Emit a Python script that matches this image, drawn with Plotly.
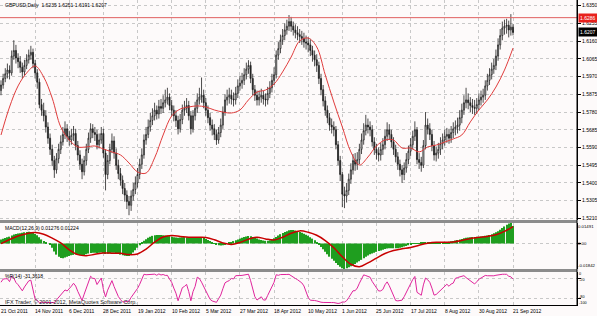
import plotly.graph_objects as go
from plotly.subplots import make_subplots
import pandas as pd

dates = pd.bdate_range("2011-10-21", "2012-09-21")

closes = [1.5925,1.5960,1.5985,1.6005,1.5990,1.6080,1.6110,1.6070,1.6050,1.6020,
 1.5995,1.6030,1.6060,1.6085,1.6100,1.6040,1.5990,1.5940,1.5820,1.5790,
 1.5760,1.5700,1.5640,1.5580,1.5520,1.5470,1.5530,1.5580,1.5620,1.5660,
 1.5690,1.5650,1.5630,1.5655,1.5665,1.5600,1.5550,1.5500,1.5460,1.5520,
 1.5580,1.5640,1.5690,1.5670,1.5660,1.5605,1.5630,1.5665,1.5560,1.5445,
 1.5520,1.5580,1.5625,1.5560,1.5495,1.5450,1.5415,1.5370,1.5335,1.5300,
 1.5280,1.5330,1.5365,1.5400,1.5445,1.5500,1.5550,1.5630,1.5660,1.5700,
 1.5735,1.5760,1.5790,1.5770,1.5810,1.5800,1.5830,1.5845,1.5860,1.5815,
 1.5790,1.5760,1.5735,1.5690,1.5740,1.5790,1.5800,1.5815,1.5760,1.5690,
 1.5760,1.5800,1.5845,1.5860,1.5870,1.5830,1.5790,1.5750,1.5710,1.5690,
 1.5660,1.5630,1.5670,1.5710,1.5780,1.5845,1.5860,1.5870,1.5850,1.5845,
 1.5880,1.5920,1.5935,1.5950,1.5980,1.6010,1.6030,1.5960,1.5900,1.5870,
 1.5845,1.5860,1.5870,1.5850,1.5845,1.5880,1.5910,1.5950,1.5980,1.6085,
 1.6120,1.6165,1.6190,1.6220,1.6240,1.6265,1.6240,1.6220,1.6205,1.6195,
 1.6185,1.6175,1.6155,1.6150,1.6140,1.6110,1.6085,1.6060,1.6030,1.5960,
 1.5900,1.5840,1.5790,1.5750,1.5710,1.5700,1.5685,1.5605,1.5520,1.5445,
 1.5340,1.5330,1.5360,1.5420,1.5470,1.5520,1.5500,1.5525,1.5580,1.5630,
 1.5680,1.5710,1.5700,1.5685,1.5620,1.5580,1.5560,1.5550,1.5580,1.5605,
 1.5650,1.5685,1.5660,1.5620,1.5580,1.5540,1.5500,1.5470,1.5445,1.5480,
 1.5525,1.5570,1.5605,1.5650,1.5685,1.5525,1.5510,1.5495,1.5600,1.5710,
 1.5690,1.5660,1.5600,1.5550,1.5560,1.5580,1.5610,1.5630,1.5650,1.5660,
 1.5640,1.5670,1.5690,1.5700,1.5710,1.5750,1.5790,1.5830,1.5845,1.5830,
 1.5815,1.5805,1.5800,1.5820,1.5845,1.5860,1.5870,1.5920,1.5950,1.5980,
 1.6010,1.6030,1.6080,1.6140,1.6190,1.6230,1.6240,1.6245,1.6220,1.6235,
 1.6207]

opens = [1.5895,1.5925,1.5960,1.5985,1.6005,1.5990,1.6080,1.6110,1.6070,1.6050,
 1.6020,1.5995,1.6030,1.6060,1.6085,1.6100,1.6040,1.5990,1.5940,1.5820,
 1.5790,1.5760,1.5700,1.5640,1.5580,1.5520,1.5470,1.5530,1.5580,1.5620,
 1.5660,1.5690,1.5650,1.5630,1.5655,1.5665,1.5600,1.5550,1.5500,1.5460,
 1.5520,1.5580,1.5640,1.5690,1.5670,1.5660,1.5605,1.5630,1.5665,1.5560,
 1.5445,1.5520,1.5580,1.5625,1.5560,1.5495,1.5450,1.5415,1.5370,1.5335,
 1.5300,1.5280,1.5330,1.5365,1.5400,1.5445,1.5500,1.5550,1.5630,1.5660,
 1.5700,1.5735,1.5760,1.5790,1.5770,1.5810,1.5800,1.5830,1.5845,1.5860,
 1.5815,1.5790,1.5760,1.5735,1.5690,1.5740,1.5790,1.5800,1.5815,1.5760,
 1.5690,1.5760,1.5800,1.5845,1.5860,1.5870,1.5830,1.5790,1.5750,1.5710,
 1.5690,1.5660,1.5630,1.5670,1.5710,1.5780,1.5845,1.5860,1.5870,1.5850,
 1.5845,1.5880,1.5920,1.5935,1.5950,1.5980,1.6010,1.6030,1.5960,1.5900,
 1.5870,1.5845,1.5860,1.5870,1.5850,1.5845,1.5880,1.5910,1.5950,1.5980,
 1.6085,1.6120,1.6165,1.6190,1.6220,1.6240,1.6265,1.6240,1.6220,1.6205,
 1.6195,1.6185,1.6175,1.6155,1.6150,1.6140,1.6110,1.6085,1.6060,1.6030,
 1.5960,1.5900,1.5840,1.5790,1.5750,1.5710,1.5700,1.5685,1.5605,1.5520,
 1.5445,1.5340,1.5330,1.5360,1.5420,1.5470,1.5520,1.5500,1.5525,1.5580,
 1.5630,1.5680,1.5710,1.5700,1.5685,1.5620,1.5580,1.5560,1.5550,1.5580,
 1.5605,1.5650,1.5685,1.5660,1.5620,1.5580,1.5540,1.5500,1.5470,1.5445,
 1.5480,1.5525,1.5570,1.5605,1.5650,1.5685,1.5525,1.5510,1.5495,1.5600,
 1.5710,1.5690,1.5660,1.5600,1.5550,1.5560,1.5580,1.5610,1.5630,1.5650,
 1.5660,1.5640,1.5670,1.5690,1.5700,1.5710,1.5750,1.5790,1.5830,1.5845,
 1.5830,1.5815,1.5805,1.5800,1.5820,1.5845,1.5860,1.5870,1.5920,1.5950,
 1.5980,1.6010,1.6030,1.6080,1.6140,1.6190,1.6230,1.6240,1.6245,1.6220,
 1.6235]

highs = [1.5950,1.5985,1.6015,1.6040,1.6030,1.6110,1.6165,1.6140,1.6095,1.6080,
 1.6045,1.6060,1.6090,1.6115,1.6135,1.6120,1.6060,1.6010,1.5960,1.5850,
 1.5830,1.5790,1.5725,1.5665,1.5605,1.5545,1.5560,1.5610,1.5655,1.5700,
 1.5730,1.5715,1.5680,1.5690,1.5705,1.5690,1.5625,1.5575,1.5530,1.5545,
 1.5610,1.5670,1.5720,1.5715,1.5700,1.5685,1.5665,1.5700,1.5690,1.5580,
 1.5550,1.5610,1.5665,1.5650,1.5585,1.5525,1.5480,1.5440,1.5400,1.5360,
 1.5330,1.5360,1.5400,1.5435,1.5480,1.5530,1.5585,1.5660,1.5700,1.5740,
 1.5775,1.5800,1.5830,1.5815,1.5845,1.5850,1.5870,1.5900,1.5910,1.5880,
 1.5845,1.5815,1.5790,1.5760,1.5770,1.5820,1.5840,1.5855,1.5840,1.5785,
 1.5790,1.5835,1.5880,1.5910,1.5965,1.5900,1.5855,1.5815,1.5775,1.5740,
 1.5715,1.5685,1.5700,1.5745,1.5810,1.5875,1.5900,1.5910,1.5900,1.5885,
 1.5915,1.5955,1.5975,1.5990,1.6015,1.6045,1.6058,1.6050,1.5985,1.5925,
 1.5895,1.5895,1.5905,1.5895,1.5880,1.5915,1.5945,1.5985,1.6020,1.6110,
 1.6155,1.6195,1.6225,1.6255,1.6275,1.6300,1.6290,1.6265,1.6250,1.6240,
 1.6225,1.6215,1.6205,1.6190,1.6180,1.6170,1.6135,1.6110,1.6090,1.6050,
 1.5985,1.5925,1.5865,1.5815,1.5775,1.5745,1.5730,1.5705,1.5625,1.5545,
 1.5460,1.5380,1.5400,1.5450,1.5505,1.5555,1.5560,1.5565,1.5610,1.5665,
 1.5720,1.5765,1.5745,1.5730,1.5710,1.5645,1.5610,1.5590,1.5615,1.5640,
 1.5685,1.5725,1.5715,1.5685,1.5645,1.5605,1.5565,1.5525,1.5495,1.5510,
 1.5560,1.5600,1.5640,1.5680,1.5730,1.5700,1.5560,1.5540,1.5630,1.5780,
 1.5745,1.5720,1.5685,1.5625,1.5595,1.5615,1.5645,1.5665,1.5685,1.5695,
 1.5690,1.5705,1.5725,1.5735,1.5750,1.5790,1.5825,1.5870,1.5910,1.5880,
 1.5860,1.5850,1.5845,1.5855,1.5880,1.5895,1.5905,1.5950,1.5985,1.6015,
 1.6045,1.6065,1.6115,1.6175,1.6225,1.6265,1.6275,1.6280,1.6270,1.6305,
 1.6251]

lows = [1.5870,1.5905,1.5940,1.5960,1.5955,1.5975,1.6060,1.6040,1.6015,1.5990,
 1.5960,1.5975,1.6010,1.6040,1.6060,1.6015,1.5960,1.5905,1.5800,1.5760,
 1.5730,1.5670,1.5610,1.5550,1.5490,1.5427,1.5450,1.5505,1.5555,1.5600,
 1.5635,1.5620,1.5600,1.5605,1.5625,1.5575,1.5520,1.5470,1.5420,1.5440,
 1.5495,1.5560,1.5615,1.5640,1.5625,1.5580,1.5585,1.5610,1.5535,1.5360,
 1.5420,1.5500,1.5560,1.5530,1.5470,1.5420,1.5385,1.5340,1.5300,1.5260,
 1.5227,1.5250,1.5305,1.5340,1.5375,1.5420,1.5475,1.5530,1.5605,1.5640,
 1.5675,1.5710,1.5735,1.5740,1.5745,1.5770,1.5775,1.5805,1.5820,1.5790,
 1.5760,1.5730,1.5700,1.5660,1.5670,1.5715,1.5760,1.5775,1.5735,1.5660,
 1.5670,1.5735,1.5775,1.5820,1.5830,1.5800,1.5760,1.5720,1.5680,1.5655,
 1.5630,1.5604,1.5610,1.5645,1.5690,1.5760,1.5815,1.5825,1.5820,1.5810,
 1.5820,1.5855,1.5895,1.5905,1.5925,1.5955,1.5985,1.5935,1.5870,1.5840,
 1.5815,1.5815,1.5830,1.5820,1.5810,1.5820,1.5855,1.5885,1.5925,1.5960,
 1.6060,1.6095,1.6140,1.6165,1.6195,1.6215,1.6210,1.6190,1.6175,1.6165,
 1.6150,1.6140,1.6125,1.6115,1.6100,1.6080,1.6050,1.6025,1.5995,1.5930,
 1.5870,1.5810,1.5760,1.5720,1.5680,1.5665,1.5650,1.5580,1.5495,1.5410,
 1.5270,1.5265,1.5295,1.5335,1.5395,1.5445,1.5465,1.5470,1.5500,1.5555,
 1.5605,1.5655,1.5665,1.5650,1.5595,1.5550,1.5525,1.5515,1.5520,1.5550,
 1.5580,1.5625,1.5630,1.5590,1.5550,1.5510,1.5470,1.5435,1.5400,1.5415,
 1.5455,1.5500,1.5545,1.5580,1.5625,1.5500,1.5475,1.5460,1.5480,1.5580,
 1.5660,1.5630,1.5570,1.5520,1.5515,1.5530,1.5550,1.5580,1.5600,1.5615,
 1.5610,1.5615,1.5640,1.5655,1.5665,1.5680,1.5720,1.5765,1.5800,1.5795,
 1.5780,1.5770,1.5765,1.5770,1.5790,1.5815,1.5830,1.5845,1.5895,1.5925,
 1.5955,1.5985,1.6005,1.6055,1.6115,1.6165,1.6195,1.6200,1.6180,1.6190,
 1.6191]

ma_vals = [1.5657,1.5807,1.5920,1.5989,1.6027,1.5968,1.5855,1.5700,1.5630,1.5593,
 1.5593,1.5598,1.5582,1.5566,1.5550,1.5507,1.5459,1.5453,1.5534,1.5657,
 1.5759,1.5796,1.5807,1.5813,1.5807,1.5791,1.5780,1.5775,1.5791,1.5845,
 1.5887,1.5898,1.5930,1.5995,1.6075,1.6161,1.6177,1.6129,1.5979,1.5834,
 1.5700,1.5566,1.5496,1.5539,1.5598,1.5630,1.5630,1.5587,1.5587,1.5566,
 1.5593,1.5603,1.5619,1.5636,1.5657,1.5727,1.5791,1.5845,1.5914,1.6005,
 1.6123]

macd_main = [0.0030,0.0035,0.0040,0.0046,0.0050,0.0058,0.0066,0.0070,0.0073,0.0075,0.0078,0.0082,0.0084,
 0.0085,0.0083,0.0078,0.0070,0.0060,0.0045,0.0030,0.0018,0.0008,0.0000,-0.0010,
 -0.0030,-0.0058,-0.0080,-0.0095,-0.0104,
 -0.0106,-0.0100,-0.0095,-0.0090,-0.0085,
 -0.0082,-0.0080,-0.0082,-0.0085,-0.0088,-0.0085,-0.0078,-0.0072,-0.0068,-0.0066,-0.0066,-0.0068,-0.0066,
 -0.0064,-0.0068,-0.0075,-0.0074,-0.0070,-0.0066,-0.0066,-0.0070,-0.0075,-0.0080,-0.0085,-0.0088,-0.0090,-0.0090,
 -0.0080,-0.0065,-0.0048,-0.0030,-0.0012,0.0005,
 0.0020,0.0032,0.0042,0.0050,0.0056,0.0060,0.0062,0.0063,0.0062,
 0.0060,0.0058,0.0056,0.0054,0.0050,0.0046,0.0044,0.0042,0.0044,0.0046,
 0.0047,0.0046,0.0044,0.0042,0.0042,0.0044,0.0046,0.0046,0.0044,0.0040,
 0.0034,0.0026,0.0018,0.0010,0.0002,-0.0006,-0.0012,-0.0014,-0.0012,-0.0006,0.0000,
 0.0006,0.0012,0.0018,0.0024,0.0030,0.0036,0.0042,0.0048,0.0052,0.0055,0.0053,
 0.0048,0.0042,0.0036,0.0030,0.0026,0.0022,0.0020,0.0020,
 0.0024,0.0030,0.0038,0.0048,0.0058,0.0068,0.0076,0.0084,0.0090,0.0096,0.0099,0.0098,0.0095,0.0090,0.0084,
 0.0078,0.0072,0.0064,0.0056,0.0046,0.0036,0.0024,0.0010,
 -0.0006,-0.0024,-0.0042,-0.0060,-0.0078,-0.0095,-0.0110,-0.0125,-0.0140,-0.0155,-0.0168,-0.0178,-0.0184,
 -0.0178,-0.0172,-0.0165,-0.0156,-0.0148,-0.0138,-0.0128,-0.0118,-0.0106,-0.0096,-0.0086,
 -0.0078,-0.0072,-0.0066,-0.0060,-0.0054,-0.0050,-0.0045,-0.0040,-0.0036,-0.0034,
 -0.0034,-0.0034,-0.0034,-0.0033,-0.0030,-0.0026,-0.0022,-0.0017,-0.0012,-0.0006,
 -0.0002,0.0002,0.0004,0.0004,0.0006,0.0008,0.0010,0.0012,0.0012,0.0010,
 0.0008,0.0008,0.0008,0.0008,0.0010,0.0010,0.0012,0.0014,0.0016,0.0018,
 0.0022,0.0026,0.0030,0.0034,0.0038,0.0042,0.0044,0.0046,0.0047,0.0048,0.0049,0.0050,0.0052,0.0054,0.0056,0.0058,
 0.0062,0.0068,0.0074,0.0082,0.0090,0.0100,0.0112,0.0124,0.0136,0.0145,0.0149,0.01276]

signal_vals = [0.0000,0.0030,0.0055,0.0072,0.0080,0.0068,0.0040,0.0005,-0.0045,-0.0080,
 -0.0088,-0.0078,-0.0068,-0.0070,-0.0070,-0.0080,-0.0075,-0.0040,0.0010,0.0048,
 0.0058,0.0052,0.0046,0.0045,0.0044,0.0028,0.0005,-0.0006,0.0008,0.0032,
 0.0046,0.0034,0.0026,0.0046,0.0075,0.0092,0.0082,0.0060,0.0022,-0.0030,
 -0.0095,-0.0150,-0.0168,-0.0140,-0.0105,-0.0072,-0.0050,-0.0038,-0.0028,-0.0012,
 0.0002,0.0009,0.0009,0.0012,0.0022,0.0036,0.0045,0.0052,0.0064,0.0088,
 0.01224]

price_ticks = [1.6350,1.6255,1.6160,1.6065,1.5970,1.5875,1.5780,1.5685,1.5590,1.5495,1.5400,1.5305,1.5210]
macd_labels = [0.01491, 0.00, -0.01842]
wpr_labels = [0, -20, -80, -100]
hline_price = 1.6286
last_price = 1.6207

n = len(dates)
xs = list(range(n))
sparse_idx = list(range(0, n, 4))
label_idx = list(range(0, n, 16))
label_txt = [f"{dates[i].day} {dates[i].strftime('%b %Y')}" for i in label_idx]

hi = pd.Series(highs).rolling(14, min_periods=1).max()
lo = pd.Series(lows).rolling(14, min_periods=1).min()
wpr = (-100 * (hi - pd.Series(closes)) / (hi - lo)).tolist()

H = 305.0
def pf(px):
    return (H - px) / H

BG = "#fdfafa"
GRID = "#c8c8c8"
FONT = "Liberation Sans"

fig = make_subplots(rows=3, cols=1, shared_xaxes=True, vertical_spacing=0.01)

fig.add_trace(go.Candlestick(x=xs, open=opens, high=highs, low=lows, close=closes,
    increasing=dict(line=dict(color="#202020", width=0.8), fillcolor="white"),
    decreasing=dict(line=dict(color="#202020", width=0.8), fillcolor="#202020"),
    whiskerwidth=0, showlegend=False, hoverinfo="skip"), row=1, col=1)
fig.add_trace(go.Scatter(x=sparse_idx, y=ma_vals, mode="lines",
    line=dict(color="#e03c3c", width=1, shape="spline"), showlegend=False, hoverinfo="skip"), row=1, col=1)

fig.add_trace(go.Bar(x=xs, y=macd_main, marker_color="#1f9e1f", marker_line_width=0,
    width=0.55, showlegend=False, hoverinfo="skip"), row=2, col=1)
fig.add_trace(go.Scatter(x=sparse_idx, y=signal_vals, mode="lines",
    line=dict(color="#c80000", width=1.5, shape="spline"), showlegend=False, hoverinfo="skip"), row=2, col=1)

fig.add_trace(go.Scatter(x=xs, y=wpr, mode="lines",
    line=dict(color="#e0249c", width=1), showlegend=False, hoverinfo="skip"), row=3, col=1)

xr = [-0.47, 270]
for k in (1, 2, 3):
    fig.update_xaxes(row=k, col=1, range=xr, tickvals=label_idx, showticklabels=False,
                     showgrid=True, gridcolor=GRID, griddash="3px,3px", gridwidth=1,
                     zeroline=False, ticks="", rangeslider_visible=False)
fig.update_xaxes(row=3, col=1, showline=True, linecolor="black", linewidth=1)

axfont = dict(family=FONT, size=5, color="black")
fig.update_yaxes(row=1, col=1, side="right", range=[1.52013, 1.63806],
                 tickvals=price_ticks, ticktext=[f"{v:.4f}" for v in price_ticks],
                 tickfont=axfont, ticks="outside", ticklen=3, tickcolor="black",
                 showgrid=True, gridcolor=GRID, griddash="3px,3px", zeroline=False,
                 showline=True, linecolor="black", linewidth=1)
fig.update_yaxes(row=2, col=1, side="right", range=[-0.01842, 0.01491],
                 tickvals=[0.0], showticklabels=False, ticks="outside", ticklen=3, tickcolor="black",
                 showgrid=True, gridcolor=GRID, griddash="3px,3px", zeroline=False,
                 showline=True, linecolor="black", linewidth=1)
fig.update_yaxes(row=3, col=1, side="right", range=[-101, 0],
                 tickvals=[-20, -80], showticklabels=False, ticks="outside", ticklen=3, tickcolor="black",
                 showgrid=True, gridcolor=GRID, griddash="3px,3px", zeroline=False,
                 showline=True, linecolor="black", linewidth=1)

fig.layout.yaxis.domain = [pf(220), 1.0]
fig.layout.yaxis2.domain = [pf(269), pf(223)]
fig.layout.yaxis3.domain = [0.0, pf(272)]

shapes = [
    dict(type="rect", xref="paper", yref="paper", x0=0, x1=1, y0=pf(223), y1=pf(220),
         fillcolor="#8c8c8c", line=dict(width=0), layer="above"),
    dict(type="rect", xref="paper", yref="paper", x0=0, x1=1, y0=pf(272), y1=pf(269),
         fillcolor="#8c8c8c", line=dict(width=0), layer="above"),
    dict(type="line", xref="paper", yref="y", x0=0, x1=1, y0=hline_price, y1=hline_price,
         line=dict(color="#e06060", width=1)),
    dict(type="line", xref="paper", yref="paper", x0=1, x1=1, y0=0, y1=1,
         line=dict(color="black", width=1)),
]

ann = []
small = dict(family=FONT, size=5, color="black")
tiny = dict(family=FONT, size=4.3, color="black")
ann.append(dict(text="GBPUSD,Daily  1.6235 1.6251 1.6191 1.6207", xref="paper", yref="paper",
                x=3/577, y=pf(5), xanchor="left", yanchor="middle", showarrow=False, font=small))
ann.append(dict(text="MACD(12,26,9) 0.01276 0.01224", xref="paper", yref="paper",
                x=3/577, y=pf(228), xanchor="left", yanchor="middle", showarrow=False, font=small))
ann.append(dict(text="%R(14) -31.3618", xref="paper", yref="paper",
                x=3/577, y=pf(276), xanchor="left", yanchor="middle", showarrow=False, font=small))
ann.append(dict(text="IFX Trader, © 2001-2012, MetaQuotes Software Corp.", xref="paper", yref="paper",
                x=3/577, y=pf(302), xanchor="left", yanchor="middle", showarrow=False,
                font=dict(family=FONT, size=5.5, color="#222222")))
for i, t in zip(label_idx, label_txt):
    ann.append(dict(text=t, xref="x3", yref="paper", x=i, y=pf(311), xanchor="left",
                    yanchor="middle", showarrow=False, font=small, xshift=-2))
for v, anc, txt in zip(macd_labels, ["top", "middle", "bottom"], ["0.01491", "0.00", "-0.01842"]):
    ann.append(dict(text=txt, xref="paper", yref="y2", x=1, y=v, xanchor="left", yanchor=anc,
                    showarrow=False, font=tiny, xshift=0, borderpad=0))
for v, anc, sh in zip(wpr_labels, ["top", "middle", "middle", "bottom"], [1, -1, 1, -1]):
    ann.append(dict(text=str(v), xref="paper", yref="y3", x=1, y=v, xanchor="left", yanchor=anc,
                    showarrow=False, font=dict(family=FONT, size=3.8, color="black"),
                    xshift=1, yshift=sh, borderpad=0))
ann.append(dict(text="1.6286", xref="paper", yref="y", x=1, y=hline_price, xanchor="left",
                yanchor="middle", showarrow=False, font=dict(family=FONT, size=5, color="white"),
                bgcolor="#e8201c", borderpad=1, xshift=1))
ann.append(dict(text="1.6207", xref="paper", yref="y", x=1, y=last_price, xanchor="left",
                yanchor="middle", showarrow=False, font=dict(family=FONT, size=5, color="white"),
                bgcolor="#000000", borderpad=1, xshift=1))

fig.update_layout(width=597, height=316, margin=dict(l=0, r=20, t=0, b=11),
                  plot_bgcolor=BG, paper_bgcolor=BG, showlegend=False,
                  shapes=shapes, annotations=ann, bargap=0.4)

fig.write_html("out.html")
